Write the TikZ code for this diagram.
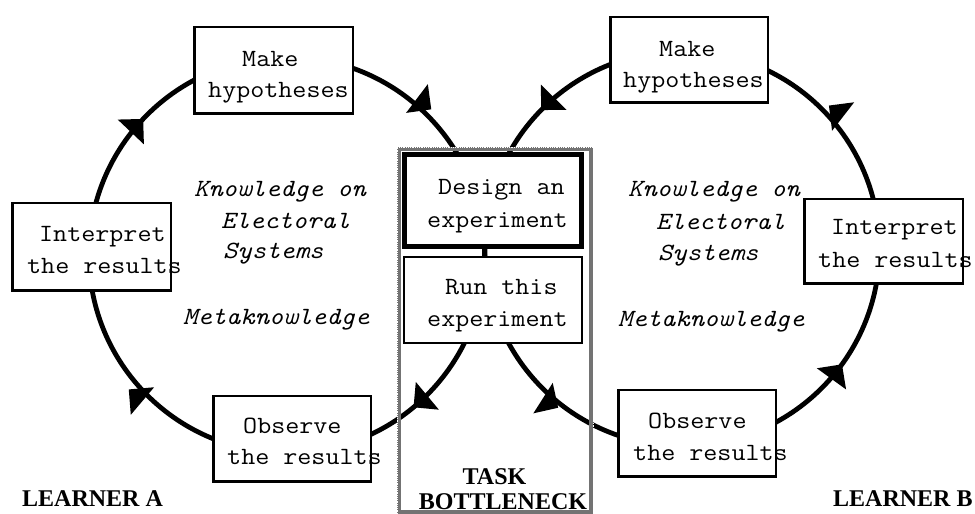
\documentclass[tikz,border=0pt]{standalone}
\usepackage{fontspec}
\setmonofont{Latin Modern Mono}[FakeStretch=1.1]
\newfontfamily\lblfont{Liberation Serif}
\usetikzlibrary{arrows.meta,decorations.markings}
\tikzset{
  cyc/.style={line width=4.8pt},
  stepbox/.style={draw=black, fill=white, line width=2.5pt, rectangle, inner sep=0pt},
  txt/.style={inner sep=0pt, anchor=base west, font=\fontsize{24.8pt}{28pt}\selectfont\ttfamily},
  itx/.style={inner sep=0pt, anchor=base west, font=\fontsize{24.8pt}{28pt}\selectfont\ttfamily\itshape},
  lbl/.style={inner sep=0pt, font=\fontsize{24pt}{28pt}\selectfont\lblfont\bfseries},
  tipA/.tip={Triangle[length=18pt,width=35pt]}
}
\begin{document}
\begin{tikzpicture}[x=1pt,y=1pt]
\useasboundingbox (0,0) rectangle (975,514);
% circle centres
\coordinate (cA) at (287,259);
\coordinate (cB) at (682,265.5);
% learner A cycle (clockwise)
\draw[cyc, postaction={decorate}, decoration={markings,
   mark=at position 0.3794 with {\arrowreversed{tipA}},
   mark=at position 0.1244 with {\arrowreversed{tipA}},
   mark=at position 0.8603 with {\arrowreversed{tipA}},
   mark=at position 0.6100 with {\arrowreversed{tipA}}}]
   (cA) circle[radius=198];
% learner B cycle (counter-clockwise)
\draw[cyc, postaction={decorate}, decoration={markings,
   mark=at position 0.3764 with {\arrow{tipA}},
   mark=at position 0.1214 with {\arrow{tipA}},
   mark=at position 0.9003 with {\arrow{tipA}},
   mark=at position 0.6442 with {\arrow{tipA}}}]
   (cB) circle[radius=197.5];
% task bottleneck frame
\node[draw=black!55, line width=4pt, minimum width=192pt, minimum height=363pt, inner sep=0pt] (neck) at (495,183.5) {};
\draw[white, line width=0.8pt, densely dotted] (neck.south west) rectangle (neck.north east);
% boxes
\node[stepbox, minimum width=158.5pt, minimum height=86.5pt] (hypA) at (273.5,443.5) {};
\node[stepbox, minimum width=158.5pt, minimum height=87.5pt] (intA) at (91.5,267) {};
\node[stepbox, minimum width=157.5pt, minimum height=85.5pt] (obsA) at (292,75) {};
\node[stepbox, minimum width=157.5pt, minimum height=85.5pt] (hypB) at (689,454) {};
\node[stepbox, minimum width=158.5pt, minimum height=84.5pt] (intB) at (883.5,272.5) {};
\node[stepbox, minimum width=157.5pt, minimum height=86.5pt] (obsB) at (697,80.5) {};
\node[stepbox, line width=5pt, minimum width=177pt, minimum height=92pt] (design) at (493,313.5) {};
\node[stepbox, minimum width=178pt, minimum height=86pt] (run) at (493,214) {};
% box texts
\node[txt] (t1) at (242,447) {Make};
\node[txt] (t2) at (208,416) {hypotheses};
\node[txt] (t3) at (659,457) {Make};
\node[txt] (t4) at (623,426) {hypotheses};
\node[txt] (t5) at (39,272) {Interpret};
\node[txt] (t6) at (27,240) {the results};
\node[txt] (t7) at (831,279) {Interpret};
\node[txt] (t8) at (818,246) {the results};
\node[txt] (t9) at (243,80) {Observe};
\node[txt] (t10) at (227,49) {the results};
\node[txt] (t11) at (648,85) {Observe};
\node[txt] (t12) at (633,53) {the results};
\node[txt] (t13) at (438,319) {Design an};
\node[txt] (t14) at (427,286) {experiment};
\node[txt] (t15) at (445,219) {Run this};
\node[txt] (t16) at (427,187) {experiment};
% knowledge texts
\node[itx] (k1) at (194,317) {Knowledge on};
\node[itx] (k2) at (221,285) {Electoral};
\node[itx] (k3) at (223,255) {Systems};
\node[itx] (k4) at (183,189) {Metaknowledge};
\node[itx] (k5) at (628,317) {Knowledge on};
\node[itx] (k6) at (656,284) {Electoral};
\node[itx] (k7) at (658,253) {Systems};
\node[itx] (k8) at (618,187) {Metaknowledge};
% labels
\node[lbl, anchor=base west] (la) at (22,7) {LEARNER A};
\node[lbl, anchor=base west] (lb) at (833,7) {LEARNER B};
\node[lbl, anchor=base] (tk) at (494.5,29) {TASK};
\node[lbl, anchor=base] (bn) at (503,4) {BOTTLENECK};
\end{tikzpicture}
\end{document}
